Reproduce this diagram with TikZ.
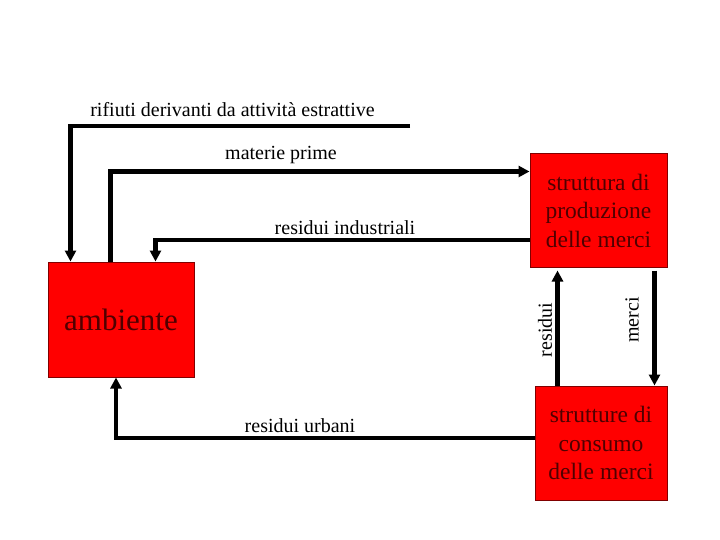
\documentclass[tikz,border=0pt]{standalone}
\usepackage{fontspec}
\setmainfont{Liberation Serif}
\usetikzlibrary{arrows.meta,calc}
\definecolor{boxred}{RGB}{255,0,0}
\definecolor{boxedge}{RGB}{128,0,0}
\definecolor{boxtext}{RGB}{80,0,0}
\begin{document}
\begin{tikzpicture}[x=1pt,y=-1pt,
  box/.style={draw=boxedge,line width=1pt,fill=boxred,text=boxtext,inner sep=0pt,
    align=center,font=\fontsize{23.5}{28.5}\selectfont},
  flow/.style={line width=4.5pt,-{Triangle[length=11pt,width=11pt]}},
  plain/.style={line width=4.5pt},
  lbl/.style={font=\fontsize{20}{24}\selectfont,inner sep=0pt,anchor=base}]
\useasboundingbox (0,0) rectangle (720,540);
\fill[white] (0,0) rectangle (720,540);
% boxes
\node[box,minimum width=146pt,minimum height=115pt] (amb) at (121,319.5)
  {\fontsize{31}{36}\selectfont ambiente};
\node[box,minimum width=137pt,minimum height=113pt] (prod) at (598.5,210.5)
  {struttura di\\produzione\\delle merci};
\node[box,minimum width=132pt,minimum height=114pt] (cons) at (601,443)
  {strutture di\\consumo\\delle merci};
% helper coordinates
\coordinate (rstart) at (410,126);
\coordinate (rdown) at ($(amb.north west)+(23,0)$);
\coordinate (mup) at ($(amb.north west)+(63,0)$);
\coordinate (idown) at ($(amb.north west)+(108,0)$);
\coordinate (mend) at ($(prod.north west)+(0,18)$);
\coordinate (istart) at ($(prod.south west)+(0,-27.5)$);
\coordinate (rsb) at ($(cons.north west)+(23,0)$);
\coordinate (mcb) at ($(cons.north east)+(-13,0)$);
\coordinate (uup) at ($(amb.south west)+(68.5,0)$);
\coordinate (ustart) at ($(cons.west)+(0,-5)$);
% connectors
\draw[flow] (rstart) -| (rdown);
\draw[flow] (mup) |- (mend);
\draw[flow] (istart) -| (idown);
\draw[flow,shorten >=3pt] (rsb) -- (rsb |- prod.south);
\draw[flow,shorten <=3pt] (mcb |- prod.south) -- (mcb);
\draw[flow] (ustart) -| (uup);
% labels
\node[lbl] (lrif) at (232.5,117) {rifiuti derivanti da attività estrattive};
\node[lbl] (lmat) at (281,160) {materie prime};
\node[lbl] (lind) at (345,235) {residui industriali};
\node[lbl] (lurb) at (300,432.5) {residui urbani};
\node[font=\fontsize{20}{24}\selectfont,inner sep=0pt,rotate=90] (lres) at (545,330) {residui};
\node[font=\fontsize{20}{24}\selectfont,inner sep=0pt,rotate=90] (lmer) at (632,320) {merci};
\end{tikzpicture}
\end{document}
